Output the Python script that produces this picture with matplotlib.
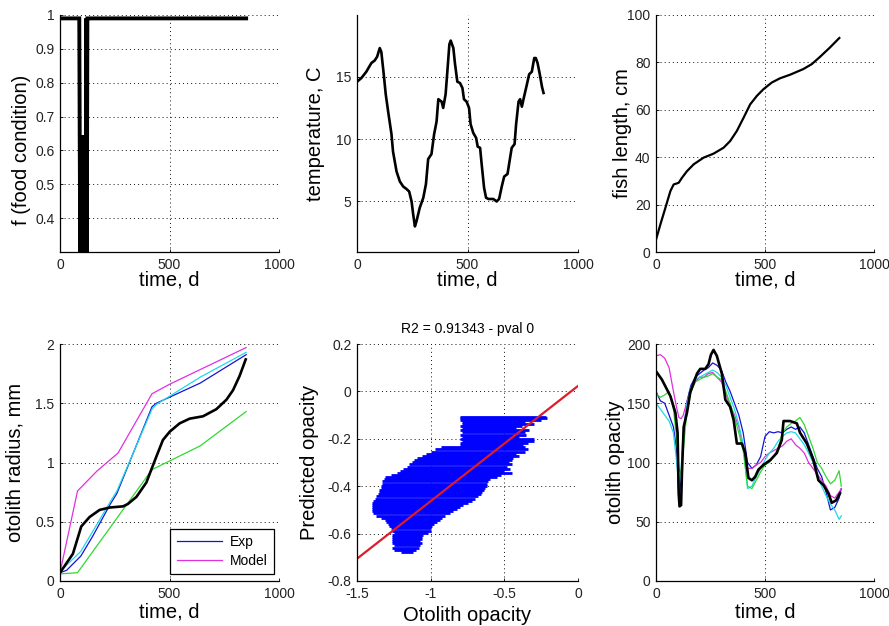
import matplotlib
matplotlib.use('Agg')
import matplotlib.pyplot as plt
from matplotlib.ticker import FuncFormatter

plt.rcParams['font.family'] = ['Liberation Sans', 'DejaVu Sans']

# ---------------- data ----------------
# food condition
food_t = [0, 88, 90, 93, 96, 99, 102, 105, 108, 111, 114, 117, 120, 122, 125, 126, 850]
food_f = [0.99, 0.99, 0.645, 0.2, 0.645, 0.2, 0.645, 0.2, 0.645, 0.2, 0.645, 0.2, 0.99, 0.2, 0.99, 0.99, 0.99]

# temperature
temp_t = [0, 20, 42, 65, 80, 91, 103, 110, 121, 130,
          141, 156, 163, 179, 194, 209, 224, 236, 247, 254,
          262, 269, 284, 300, 312, 322, 337, 349, 360, 368,
          383, 390, 401, 410, 418, 424, 436, 443, 454, 466,
          477, 484, 496, 507, 514, 526, 539, 546, 557, 564,
          575, 584, 595, 617, 632, 643, 655, 666, 681, 690,
          700, 713, 720, 731, 738, 746, 756, 769, 779, 791,
          802, 809, 817, 826, 837, 844]
temp_c = [14.6, 14.9, 15.4, 16.1, 16.3, 16.6, 17.3, 17.0, 15.2, 13.6,
          12.2, 10.4, 9.0, 7.4, 6.6, 6.2, 6.0, 5.8, 5.0, 4.0,
          3.0, 3.4, 4.5, 5.3, 6.4, 8.4, 8.8, 10.4, 11.4, 13.2,
          13.0, 12.5, 13.6, 15.7, 17.6, 17.9, 17.3, 16.1, 14.6, 14.5,
          14.1, 13.2, 13.0, 12.5, 11.2, 10.5, 10.1, 9.4, 9.3, 8.0,
          6.1, 5.3, 5.2, 5.2, 5.0, 5.2, 6.2, 7.0, 7.2, 8.2,
          9.3, 9.6, 11.2, 13.0, 13.2, 12.6, 13.4, 14.4, 15.2, 15.4,
          16.5, 16.5, 16.1, 15.3, 14.2, 13.7]

# fish length
fl_t = [0, 20, 43, 66, 81, 104, 119, 142, 173, 218, 264, 310, 340, 371, 402,
        432, 463, 493, 531, 569, 615, 676, 715, 753, 798, 841]
fl_cm = [5.2, 11.6, 18.6, 25.7, 28.5, 29.2, 31.3, 34.1, 37.0, 39.8, 41.5, 44.0, 46.8,
         51.1, 56.7, 62.3, 65.9, 68.7, 71.5, 73.3, 74.8, 77.2, 79.3, 82.4, 86.3, 90.3]

# otolith radius
rad_model_t = [0, 59, 97, 135, 181, 227, 288, 310, 349, 394, 417, 440, 470, 501,
               546, 592, 653, 714, 760, 790, 820, 848]
rad_model = [0.07, 0.23, 0.46, 0.54, 0.60, 0.62, 0.63, 0.65, 0.71, 0.83, 0.94, 1.05,
             1.19, 1.26, 1.33, 1.37, 1.39, 1.45, 1.53, 1.61, 1.73, 1.87]
rad_blue_t = [0, 30, 95, 150, 230, 260, 420, 440, 640, 850]
rad_blue = [0.07, 0.09, 0.21, 0.38, 0.65, 0.74, 1.47, 1.50, 1.67, 1.91]
rad_mag_t = [0, 80, 170, 265, 420, 500, 850]
rad_mag = [0.07, 0.76, 0.93, 1.08, 1.58, 1.66, 1.97]
rad_cyan_t = [0, 95, 150, 230, 260, 420, 440, 640, 850]
rad_cyan = [0.08, 0.25, 0.42, 0.67, 0.76, 1.45, 1.49, 1.72, 1.93]
rad_green_t = [0, 80, 420, 640, 850]
rad_green = [0.06, 0.07, 0.94, 1.14, 1.43]

# predicted vs observed opacity (horizontal segments)
opa_pred = [-0.107, -0.114, -0.121, -0.128, -0.137, -0.146, -0.155, -0.164,
            -0.173, -0.182, -0.191, -0.200, -0.209, -0.218, -0.227, -0.236,
            -0.245, -0.254, -0.263, -0.272, -0.281, -0.290, -0.299, -0.308,
            -0.317, -0.326, -0.335, -0.344, -0.353, -0.362, -0.371, -0.380,
            -0.389, -0.398, -0.407, -0.416, -0.425, -0.434, -0.443, -0.452,
            -0.461, -0.470, -0.479, -0.488, -0.497, -0.506, -0.515, -0.524,
            -0.533, -0.542, -0.551, -0.560, -0.569, -0.578, -0.587, -0.596,
            -0.605, -0.614, -0.623, -0.632, -0.641, -0.650, -0.659, -0.668,
            -0.676]
opa_lo = [-0.80, -0.80, -0.80, -0.79, -0.79, -0.80, -0.79, -0.80,
          -0.79, -0.80, -0.79, -0.80, -0.79, -0.80, -0.80, -0.93,
          -0.97, -1.00, -1.03, -1.06, -1.09, -1.11, -1.13, -1.15,
          -1.16, -1.19, -1.21, -1.23, -1.27, -1.31, -1.32, -1.33,
          -1.33, -1.34, -1.34, -1.35, -1.35, -1.36, -1.37, -1.38,
          -1.39, -1.40, -1.40, -1.40, -1.40, -1.40, -1.39, -1.37,
          -1.34, -1.31, -1.30, -1.29, -1.28, -1.27, -1.26, -1.25,
          -1.26, -1.26, -1.26, -1.26, -1.26, -1.25, -1.26, -1.25,
          -1.20]
opa_hi = [-0.22, -0.21, -0.25, -0.36, -0.30, -0.38, -0.42, -0.33,
          -0.36, -0.35, -0.40, -0.30, -0.30, -0.34, -0.37, -0.36,
          -0.34, -0.36, -0.42, -0.40, -0.44, -0.45, -0.47, -0.45,
          -0.48, -0.46, -0.50, -0.45, -0.52, -0.55, -0.60, -0.61,
          -0.62, -0.62, -0.63, -0.64, -0.65, -0.66, -0.68, -0.70,
          -0.72, -0.75, -0.78, -0.80, -0.82, -0.85, -0.87, -0.90,
          -0.92, -0.94, -0.96, -0.98, -0.99, -1.00, -1.00, -1.02,
          -1.05, -1.06, -1.06, -1.07, -1.06, -1.07, -1.08, -1.10,
          -1.12]
fit_x = [-1.5, 0.0]
fit_y = [-0.706, 0.023]
r2_title = 'R2 = 0.91343 - pval 0'

# otolith opacity
op_t = [0, 27, 66, 89, 99, 104, 108, 115, 119, 127, 142, 157, 188, 203, 226, 241,
        252, 264, 279, 302, 318, 340, 356, 371, 394, 409, 424, 440, 455, 470, 493,
        524, 554, 577, 585, 615, 646, 661, 692, 722, 745, 768, 791, 806, 826, 844]
op_model = [177, 170, 156, 142, 125, 74, 63, 64, 91, 130, 142, 159, 175, 179, 179, 183,
            191, 195, 190, 175, 153, 147, 136, 116, 116, 108, 87, 85, 88, 94, 98,
            102, 108, 119, 135, 135, 133, 125, 116, 102, 85, 81, 74, 66, 68, 74]
trace_t = [0, 20, 40, 60, 80, 95, 105, 115, 125, 140, 160, 180, 200, 220, 240, 260,
           280, 300, 320, 340, 360, 380, 400, 420, 440, 460, 480, 500, 520, 540, 560,
           580, 600, 620, 640, 660, 680, 700, 720, 740, 760, 780, 800, 820, 840, 850]
op_blue = [160, 152, 150, 140, 130, 110, 70, 85, 120, 150, 165, 172, 175, 178, 180, 184,
           182, 178, 168, 160, 150, 140, 125, 100, 95, 98, 105, 122, 126, 125, 126,
           125, 128, 130, 128, 130, 125, 115, 105, 95, 88, 75, 60, 62, 70, 78]
op_green = [158, 155, 157, 160, 145, 120, 95, 90, 110, 140, 160, 168, 170, 172, 173, 175,
            172, 170, 160, 150, 138, 125, 110, 80, 78, 85, 92, 98, 100, 105, 112,
            125, 130, 133, 135, 138, 132, 122, 112, 100, 95, 88, 82, 85, 93, 80]
op_mag = [190, 191, 188, 180, 160, 146, 138, 137, 140, 150, 160, 168, 172, 172, 175, 176,
          172, 168, 158, 148, 140, 130, 112, 95, 95, 98, 100, 105, 108, 110, 112,
          114, 118, 120, 115, 112, 108, 100, 95, 90, 85, 80, 72, 70, 75, 78]
op_cyan = [150, 145, 140, 135, 125, 100, 78, 95, 125, 148, 163, 170, 172, 174, 176, 178,
           176, 172, 165, 155, 145, 132, 115, 78, 80, 88, 95, 102, 108, 112, 118,
           122, 125, 126, 125, 120, 115, 108, 100, 90, 80, 72, 65, 60, 52, 55]

# ---------------- figure ----------------
W, H = 889, 626
fig = plt.figure(figsize=(W / 100, H / 100), dpi=100)
fig.patch.set_facecolor('white')

col_left = [60, 357, 656]
col_w = [219, 221, 218]
row_top = [15, 344]
ax_h = 237

BLUE = '#1414d2'
MAG = '#e030e0'
GREEN = '#30d830'
CYAN = '#20d8e8'

fmt = FuncFormatter(lambda v, p: '%g' % round(v, 6))


def make_ax(col, row):
    l, w, t = col_left[col], col_w[col], row_top[row]
    ax = fig.add_axes([l / W, 1 - (t + ax_h) / H, w / W, ax_h / H])
    for s in ['top', 'right']:
        ax.spines[s].set_visible(False)
    for s in ['left', 'bottom']:
        ax.spines[s].set_linewidth(0.9)
        ax.spines[s].set_color('black')
    ax.set_axisbelow(True)
    ax.grid(True, color='#111111', linestyle=(0, (1, 3.2)), linewidth=0.7)
    ax.tick_params(direction='in', length=2.5, width=0.6, labelsize=10,
                   labelcolor='#222222', pad=4)
    ax.xaxis.set_major_formatter(fmt)
    ax.yaxis.set_major_formatter(fmt)
    return ax


def labels(ax, xl, yl, xly, ylx, yly=0.5):
    ax.set_xlabel(xl, fontsize=14.5)
    ax.set_ylabel(yl, fontsize=14.5)
    ax.xaxis.set_label_coords(0.5, xly)
    ax.xaxis.label.set_va('center')
    ax.yaxis.set_label_coords(ylx, yly)
    ax.yaxis.label.set_va('center')


# 1: food condition
ax1 = make_ax(0, 0)
ax1.plot(food_t, food_f, color='black', lw=2.8, solid_joinstyle='miter')
ax1.set_xlim(0, 1000)
ax1.set_ylim(0.3, 1.0)
ax1.set_xticks([0, 500, 1000])
ax1.set_yticks([0.4, 0.5, 0.6, 0.7, 0.8, 0.9, 1.0])
labels(ax1, 'time, d', 'f (food condition)', -0.12, -0.175, 0.43)

# 2: temperature
ax2 = make_ax(1, 0)
ax2.plot(temp_t, temp_c, color='black', lw=1.9)
ax2.set_xlim(0, 1000)
ax2.set_ylim(0.95, 19.95)
ax2.set_xticks([0, 500, 1000])
ax2.set_yticks([5, 10, 15])
labels(ax2, 'time, d', 'temperature, C', -0.12, -0.19)

# 3: fish length
ax3 = make_ax(2, 0)
ax3.plot(fl_t, fl_cm, color='black', lw=1.6)
ax3.set_xlim(0, 1000)
ax3.set_ylim(0, 100)
ax3.set_xticks([0, 500, 1000])
ax3.set_yticks([0, 20, 40, 60, 80, 100])
labels(ax3, 'time, d', 'fish length, cm', -0.12, -0.152)

# 4: otolith radius
ax4 = make_ax(0, 1)
l_exp, = ax4.plot(rad_blue_t, rad_blue, color=BLUE, lw=0.9)
l_mod, = ax4.plot(rad_mag_t, rad_mag, color=MAG, lw=0.9)
ax4.plot(rad_cyan_t, rad_cyan, color=CYAN, lw=0.9)
ax4.plot(rad_green_t, rad_green, color=GREEN, lw=0.9)
ax4.plot(rad_model_t, rad_model, color='black', lw=1.9)
ax4.set_xlim(0, 1000)
ax4.set_ylim(0, 2)
ax4.set_xticks([0, 500, 1000])
ax4.set_yticks([0, 0.5, 1, 1.5, 2])
labels(ax4, 'time, d', 'otolith radius, mm', -0.13, -0.205)
leg = ax4.legend([l_exp, l_mod], ['Exp', 'Model'], loc='lower right',
                 bbox_to_anchor=(0.975, 0.03), fontsize=10, frameon=True,
                 fancybox=False, edgecolor='black', framealpha=1,
                 handlelength=3.3, borderpad=0.45, labelspacing=0.35,
                 handletextpad=0.5, borderaxespad=0)
leg.get_frame().set_linewidth(0.9)

# 5: predicted vs observed
ax5 = make_ax(1, 1)
ax5.hlines(opa_pred, opa_lo, opa_hi, color='#0000ff', lw=2.0)
ax5.plot(fit_x, fit_y, color='#dd1c2a', lw=1.6)
ax5.set_xlim(-1.5, 0)
ax5.set_ylim(-0.8, 0.2)
ax5.set_xticks([-1.5, -1, -0.5, 0])
ax5.set_yticks([-0.8, -0.6, -0.4, -0.2, 0, 0.2])
ax5.set_title(r2_title, fontsize=10, pad=8)
labels(ax5, 'Otolith opacity', 'Predicted opacity', -0.145, -0.213)

# 6: otolith opacity
ax6 = make_ax(2, 1)
ax6.plot(trace_t, op_blue, color=BLUE, lw=0.9)
ax6.plot(trace_t, op_mag, color=MAG, lw=0.9)
ax6.plot(trace_t, op_cyan, color=CYAN, lw=0.9)
ax6.plot(trace_t, op_green, color=GREEN, lw=0.9)
ax6.plot(op_t, op_model, color='black', lw=1.9)
ax6.set_xlim(0, 1000)
ax6.set_ylim(0, 200)
ax6.set_xticks([0, 500, 1000])
ax6.set_yticks([0, 50, 100, 150, 200])
labels(ax6, 'time, d', 'otolith opacity', -0.13, -0.188)

fig.savefig('out.png', dpi=100, facecolor='white')
